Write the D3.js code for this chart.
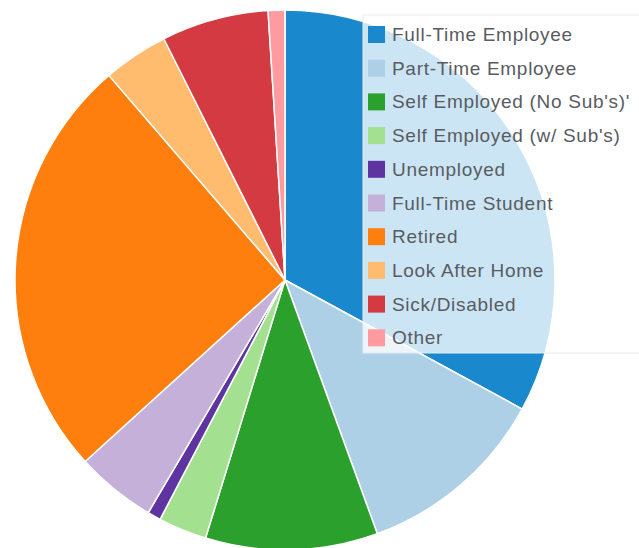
<!DOCTYPE html>
<html>
<head>
<meta charset="utf-8">
<script src="https://cdn.jsdelivr.net/npm/d3@7"></script>
<style>
  html, body { margin: 0; padding: 0; background: #fff; }
  svg { display: block; }
</style>
</head>
<body>
<svg id="chart" width="639" height="548"></svg>
<script>
// Employment status breakdown (percent of respondents)
const categories = [
  "Full-Time Employee",
  "Part-Time Employee",
  "Self Employed (No Sub's)'",
  "Self Employed (w/ Sub's)",
  "Unemployed",
  "Full-Time Student",
  "Retired",
  "Look After Home",
  "Sick/Disabled",
  "Other"
];
const values = [32.9, 11.5, 10.3, 2.9, 0.8, 4.8, 25.4, 3.9, 6.4, 1.0];
const colors = [
  "#1a88cc", "#aed0e6", "#2ca02c", "#a3e08f", "#5e35a0",
  "#c5b0d9", "#ff7f0e", "#ffbb6e", "#d43a42", "#ff9aa0"
];

const svg = d3.select("#chart");
const cx = 285, cy = 280, radius = 270;

const color = d3.scaleOrdinal().domain(categories).range(colors);

const pie = d3.pie().sort(null).value(d => d.value);
const arc = d3.arc().innerRadius(0).outerRadius(radius);

const data = categories.map((c, i) => ({ name: c, value: values[i] }));

const g = svg.append("g").attr("transform", `translate(${cx},${cy})`);
g.selectAll("path")
  .data(pie(data))
  .join("path")
  .attr("d", arc)
  .attr("fill", d => color(d.data.name))
  .attr("stroke", "#fff")
  .attr("stroke-width", 1.5)
  .attr("stroke-linejoin", "round");

// Legend panel, partly see-through over the pie
const legend = svg.append("g").attr("transform", "translate(363,15)");
legend.append("rect")
  .attr("x", 0).attr("y", 0)
  .attr("width", 290).attr("height", 338)
  .attr("fill", "#fff")
  .attr("fill-opacity", 0.78)
  .attr("stroke", "#e4ecf2")
  .attr("stroke-width", 1);

const rowH = 33.7;
const rows = legend.selectAll("g.row")
  .data(categories)
  .join("g")
  .attr("class", "row")
  .attr("transform", (d, i) => `translate(5,${11 + i * rowH})`);

rows.append("rect")
  .attr("width", 17).attr("height", 17)
  .attr("fill", d => color(d));

rows.append("text")
  .attr("x", 24).attr("y", 15)
  .attr("font-family", "Liberation Sans, Arial, sans-serif")
  .attr("font-size", 19)
  .attr("letter-spacing", 0.7)
  .attr("fill", "#585c62")
  .text(d => d);
</script>
</body>
</html>
